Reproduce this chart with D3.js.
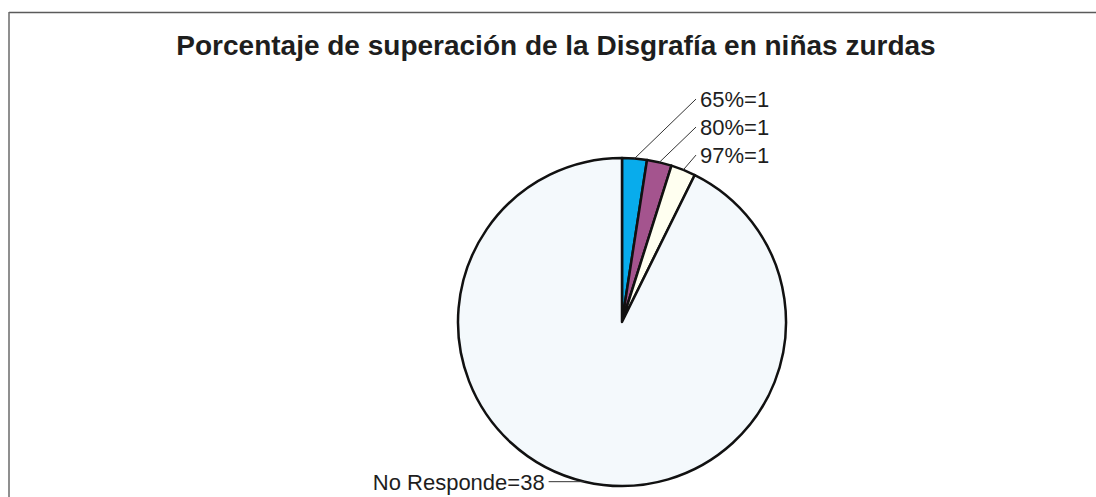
<!DOCTYPE html>
<html>
<head>
<meta charset="utf-8">
<script src="https://cdn.jsdelivr.net/npm/d3@7"></script>
<style>
  html, body { margin: 0; padding: 0; background: #ffffff; }
  svg { display: block; }
  text { font-family: "Liberation Sans", Arial, sans-serif; fill: #1e1e1e; }
</style>
</head>
<body>
<svg id="chart" width="1096" height="497"></svg>
<script>
// Category names and counts for each slice
const categories = ["65%", "80%", "97%", "No Responde"];
const counts = [1, 1, 1, 38];
const sliceColors = ["#08acec", "#a4548e", "#fffff0", "#f4f9fc"];
const titleText = "Porcentaje de superación de la Disgrafía en niñas zurdas";

const width = 1096, height = 497;
const cx = 622, cy = 322, radius = 164;

const svg = d3.select("#chart");

// Chart frame: top and left rules
svg.append("line").attr("x1", 9).attr("y1", 12.5).attr("x2", width).attr("y2", 12.5)
  .attr("stroke", "#5a5a5a").attr("stroke-width", 1.5);
svg.append("line").attr("x1", 9).attr("y1", 12).attr("x2", 9).attr("y2", height)
  .attr("stroke", "#6a6a6a").attr("stroke-width", 1.5);

// Title
svg.append("text")
  .attr("x", 556).attr("y", 55)
  .attr("text-anchor", "middle")
  .attr("font-size", 28).attr("font-weight", "bold")
  .text(titleText);

const data = categories.map((c, i) => ({ name: c, value: counts[i] }));

const pie = d3.pie().sort(null).value(d => d.value).startAngle(0).endAngle(2 * Math.PI);
const arcs = pie(data);
const arc = d3.arc().innerRadius(0).outerRadius(radius);
const color = d3.scaleOrdinal().domain(categories).range(sliceColors);

const g = svg.append("g").attr("transform", `translate(${cx},${cy})`);

g.selectAll("path.slice")
  .data(arcs)
  .join("path")
  .attr("class", "slice")
  .attr("d", arc)
  .attr("fill", d => color(d.data.name))
  .attr("stroke", "#111")
  .attr("stroke-width", 2.5)
  .attr("stroke-linejoin", "round");

// Point on a circle of radius r at the middle angle of a slice
function polar(d, r) {
  const a = (d.startAngle + d.endAngle) / 2;
  return [r * Math.sin(a), -r * Math.cos(a)];
}

// Label placement: small slices stack in a column to the upper right,
// the large slice is labelled to the left of its outer edge.
const labelGap = 28;
const small = arcs.filter(d => d.data.name !== "No Responde");
const labelPos = new Map();
let prevY = Infinity;
for (let i = small.length - 1; i >= 0; i--) {
  const d = small[i];
  const p = polar(d, radius + 16);
  const y = Math.min(p[1], prevY - labelGap);
  prevY = y;
  labelPos.set(d.data.name, { x: 78, y: y, anchor: "start" });
}
const big = arcs.find(d => d.data.name === "No Responde");
const bigPt = polar(big, radius);
labelPos.set("No Responde", { x: bigPt[0] - 40, y: bigPt[1], anchor: "end" });

const labels = g.selectAll("g.label")
  .data(arcs)
  .join("g")
  .attr("class", "label");

labels.append("polyline")
  .attr("points", d => {
    const lp = labelPos.get(d.data.name);
    const a = polar(d, radius);
    const tip = [lp.anchor === "start" ? lp.x - 4 : lp.x + 4, lp.y];
    return [a, tip].map(p => p.join(",")).join(" ");
  })
  .attr("fill", "none")
  .attr("stroke", "#333")
  .attr("stroke-width", 1);

labels.append("text")
  .attr("x", d => labelPos.get(d.data.name).x)
  .attr("y", d => labelPos.get(d.data.name).y)
  .attr("dy", "0.36em")
  .attr("text-anchor", d => labelPos.get(d.data.name).anchor)
  .attr("font-size", 22)
  .text(d => `${d.data.name}=${d.data.value}`);
</script>
</body>
</html>
